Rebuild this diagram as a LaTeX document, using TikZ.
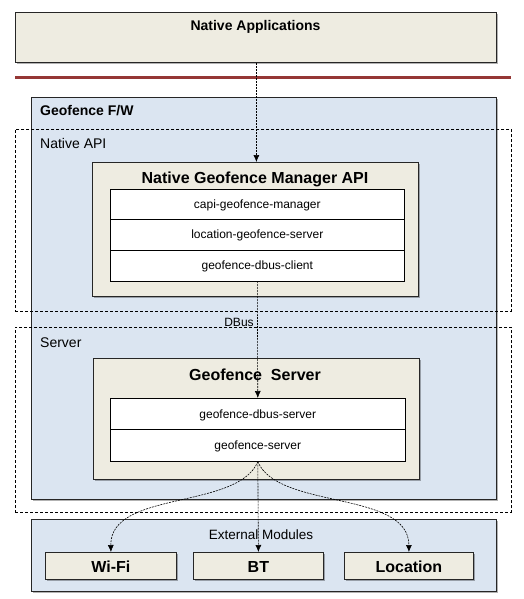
\documentclass[tikz,border=0pt]{standalone}
\usepackage{fontspec}
\setmainfont{Liberation Sans}
\usetikzlibrary{arrows.meta,shadows}
\definecolor{tanfill}{HTML}{EEECE1}
\definecolor{lblue}{HTML}{DBE5F1}
\definecolor{sepred}{HTML}{953735}
\begin{document}
\begin{tikzpicture}[x=1pt,y=-1pt,
  shd/.style={drop shadow={shadow xshift=1.6pt,shadow yshift=-1.6pt,fill=black,opacity=0.3}},
  tanbox/.style={draw=black!85,line width=0.8pt,fill=tanfill,shd,inner sep=0pt,anchor=north west},
  bluebox/.style={draw=black!85,line width=0.8pt,fill=lblue,shd,inner sep=0pt,anchor=north west},
  rowbox/.style={draw=black,line width=0.6pt,fill=white,inner sep=0pt,anchor=north west,
    minimum width=294pt,text height=9pt,text depth=0pt,font=\fontsize{12}{14}\selectfont},
  zone/.style={draw=black,line width=0.6pt,dash pattern=on 3pt off 2pt},
  conn/.style={draw=black,line width=0.6pt,dash pattern=on 2pt off 1pt,-{Latex[length=7pt,width=6pt]}},
  boldtitle/.style={font=\fontsize{14}{16}\selectfont\bfseries,inner sep=0pt},
  bigtitle/.style={font=\fontsize{16}{18}\selectfont\bfseries,inner sep=0pt,anchor=base},
  plainlabel/.style={font=\fontsize{14}{16}\selectfont,inner sep=0pt,anchor=base west},
  modbox/.style={draw=black!85,line width=0.8pt,fill=tanfill,shd,inner sep=0pt,anchor=north west,
    minimum width=130pt,minimum height=27pt,text height=13pt,text depth=0pt,
    font=\fontsize{16}{18}\selectfont\bfseries}
]
\useasboundingbox (0,0) rectangle (524,599);
\fill[white] (0,0) rectangle (524,599);

% Geofence F/W
\node[bluebox,minimum width=465pt,minimum height=402pt] (fw) at (31,97) {};
\node[boldtitle,anchor=base west] (fwt) at (40,116) {Geofence F/W};

% zones
\node[zone,anchor=north west,minimum width=496pt,minimum height=182pt,inner sep=0pt] (zapi) at (15,129) {};
\node[plainlabel] (zapit) at (40,148) {Native API};
\node[zone,anchor=north west,minimum width=496pt,minimum height=185pt,inner sep=0pt] (zsrv) at (15,327) {};
\node[plainlabel] (zsrvt) at (40,347) {Server};

% Native Geofence Manager API
\node[tanbox,minimum width=326pt,minimum height=134pt] (mgr) at (92,162) {};
\node[bigtitle] (mgrt) at (255,183) {Native\ Geofence\ Manager\ API};
\node[rowbox,minimum height=30pt] (r1) at (110,188.5) {capi-geofence-manager};
\node[rowbox,minimum height=31pt] (r2) at (110,218.5) {location-geofence-server};
\node[rowbox,minimum height=31pt] (r3) at (110,249.5) {geofence-dbus-client};

% Geofence Server
\node[tanbox,minimum width=326pt,minimum height=121pt] (srv) at (93,358) {};
\node[bigtitle] (srvt) at (255,380) {Geofence\ \ Server};
\node[rowbox,minimum width=295pt,minimum height=31pt] (s1) at (110,398) {geofence-dbus-server};
\node[rowbox,minimum width=295pt,minimum height=32pt] (s2) at (110,429) {geofence-server};

% External Modules
\node[bluebox,minimum width=465pt,minimum height=72pt] (ext) at (31,519) {};
\node[font=\fontsize{13.5}{16}\selectfont,inner sep=0pt,anchor=base] (extt) at (261,539) {External Modules};
\node[modbox,minimum width=131pt] (wifi) at (45,552) {Wi-Fi};
\node[modbox] (bt) at (193,552) {BT};
\node[modbox,minimum width=129pt] (loc) at (344,552) {Location};

% Native Applications
\node[tanbox,minimum width=481pt,minimum height=50pt] (napp) at (15,12) {};
\node[boldtitle,anchor=base] (nappt) at (255.5,30.5) {Native Applications};

% separator
\coordinate (sepl) at (15,78);
\coordinate (sepr) at (511,78);
\draw[sepred,line width=3pt] (sepl) -- (sepr);

% DBus label
\node[font=\fontsize{12}{14}\selectfont,inner sep=0pt,anchor=base] (dbus) at (239,326) {DBus};

% connectors
\draw[conn] ([xshift=0.5pt]napp.south) -- ([xshift=1pt]mgr.north);
\draw[conn] (r3.south) -- (s1.north);
\draw[conn] (s2.south) .. controls (238,510) and (110,490) .. (wifi.north);
\draw[conn] (s2.south) -- (bt.north);
\draw[conn] (s2.south) .. controls (278,510) and (409,490) .. (loc.north);
\end{tikzpicture}
\end{document}
